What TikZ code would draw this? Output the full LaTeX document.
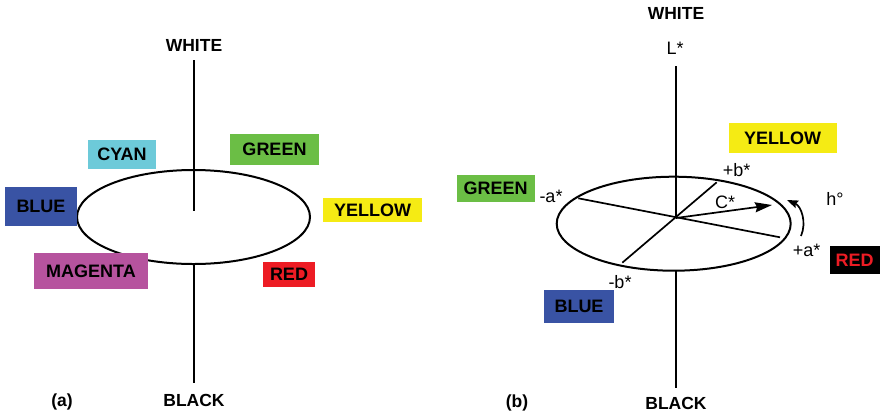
\documentclass[tikz,border=0pt]{standalone}
\usepackage{fontspec}
\setmainfont{Liberation Sans}
\usetikzlibrary{arrows.meta}
\definecolor{swcyan}{RGB}{109,202,217}
\definecolor{swgreen}{RGB}{107,190,69}
\definecolor{swblue}{RGB}{57,83,164}
\definecolor{swyellow}{RGB}{245,235,20}
\definecolor{swmagenta}{RGB}{182,83,158}
\definecolor{swred}{RGB}{237,28,36}
\begin{document}
\begin{tikzpicture}[x=1pt,y=-1pt,
  axis/.style={line width=2pt},
  spoke/.style={line width=1.7pt},
  swatch/.style={font=\fontsize{18}{20}\selectfont\bfseries, inner sep=0pt, anchor=center},
  lbl/.style={font=\fontsize{18}{20}\selectfont, inner sep=0pt},
  pole/.style={font=\fontsize{17.5}{20}\selectfont\bfseries, inner sep=0pt, anchor=base},
  tip/.style={-{Stealth[length=17pt,width=10pt,inset=2pt]}}]
\path[use as bounding box] (0,0) rectangle (880,416);

% ---------- (a) colour solid ----------
\node[pole] (wa) at (194,51) {WHITE};
\node[pole] (ba) at (194,406) {BLACK};
\node[pole] (capa) at (62,406) {(a)};
\coordinate (atop) at (194,60);
\coordinate (amid) at (194,211);
\coordinate (alow) at (194,264);
\coordinate (abot) at (194,383);
\coordinate (ac) at (193.5,217);
\draw[axis] (atop) -- (amid);
\draw[axis] (alow) -- (abot);
\draw[axis] (ac) ellipse [x radius=116.5, y radius=47];

\node[swatch, fill=swcyan, minimum width=68, minimum height=29] (acyan) at (122,154.5) {CYAN};
\node[swatch, fill=swgreen, minimum width=89, minimum height=31] (agreen) at (274.5,149.5) {GREEN};
\node[swatch, fill=swblue, minimum width=72, minimum height=39] (ablue) at (41,206.5) {BLUE};
\node[swatch, fill=swyellow, minimum width=99, minimum height=24] (ayellow) at (372.5,210) {YELLOW};
\node[swatch, fill=swmagenta, minimum width=114, minimum height=36] (amagenta) at (91,271) {MAGENTA};
\node[swatch, fill=swred, minimum width=52, minimum height=25] (ared) at (289,274.5) {RED};

% ---------- (b) CIELAB space ----------
\node[pole] (wb) at (676,19) {WHITE};
\node[pole] (bb) at (676,409) {BLACK};
\node[pole] (capb) at (517,407) {(b)};
\node[lbl] (lstar) at (675,48) {L*};
\coordinate (btop) at (676,66);
\coordinate (bo) at (676,218);
\coordinate (blow) at (676,271);
\coordinate (bbot) at (676,388);
\coordinate (bc) at (673.7,223.7);
\draw[axis] (btop) -- (bo);
\draw[axis] (blow) -- (bbot);
\draw[axis] (bc) ellipse [x radius=117, y radius=47];

\coordinate (aneg) at (578.3,198.3);
\coordinate (apos) at (780,237.3);
\coordinate (bpos) at (716.7,182.3);
\coordinate (bneg) at (622.3,262.7);
\coordinate (cend) at (772,205);
\draw[spoke] (aneg) -- (apos);
\draw[spoke] (bpos) -- (bneg);
\draw[spoke, tip] (bo) -- (cend);

\coordinate (hs) at (801,236);
\coordinate (he) at (787,200);
\draw[spoke, -{Stealth[length=11pt,width=8pt,inset=1.5pt]}]
  (hs) .. controls (807,222) and (801,206) .. (he);

\node[lbl] (lbp) at (736.7,170) {+b*};
\node[lbl] (lan) at (551,196.7) {-a*};
\node[lbl] (lap) at (806.7,250) {+a*};
\node[lbl] (lbn) at (620,281.7) {-b*};
\node[lbl] (lc) at (725,202.3) {C*};
\node[lbl] (lh) at (835,199.3) {h°};

\node[swatch, fill=swyellow, minimum width=108, minimum height=30] (byellow) at (782.5,138.3) {YELLOW};
\node[swatch, fill=swgreen, minimum width=78, minimum height=27] (bgreen) at (495.5,188.7) {GREEN};
\node[swatch, fill=black, text=swred, minimum width=50, minimum height=28] (bred) at (854.5,259.8) {RED};
\node[swatch, fill=swblue, minimum width=70, minimum height=33] (bblue) at (579,306) {BLUE};
\end{tikzpicture}
\end{document}
